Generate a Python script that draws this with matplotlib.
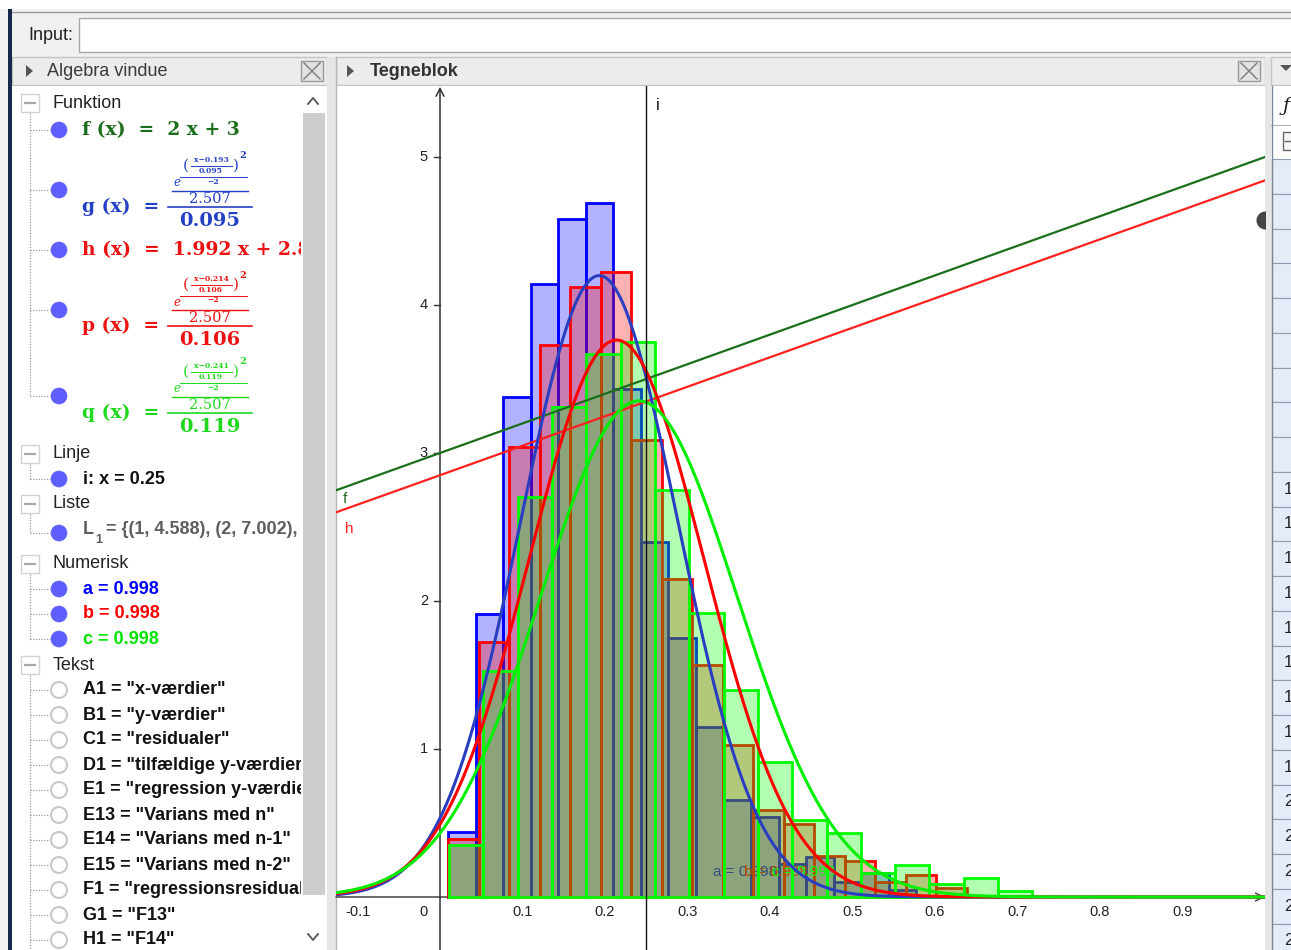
import numpy as np
import matplotlib.pyplot as plt
from matplotlib.patches import Rectangle, Circle, Polygon
from matplotlib.colors import to_rgba

W, H = 1291, 950
UI = 'Liberation Sans'
SERIF = 'DejaVu Serif'

# histogrammer (a, b, c): start, intervalbredde og søjlehøjder
a_start, a_width = 0.0097, 0.0334
a_heights = [0.44, 1.91, 3.38, 4.14, 4.58, 4.69, 3.43, 2.40, 1.75, 1.15,
             0.655, 0.54, 0.22, 0.27, 0.10, 0.16, 0.05]
b_start, b_width = 0.0097, 0.0370
b_heights = [0.39, 1.72, 3.04, 3.73, 4.12, 4.22, 3.09, 2.15, 1.57, 1.03,
             0.59, 0.49, 0.28, 0.245, 0.10, 0.15, 0.06]
c_start, c_width = 0.0109, 0.0416
c_heights = [0.35, 1.53, 2.70, 3.31, 3.67, 3.75, 2.75, 1.92, 1.40, 0.91,
             0.52, 0.43, 0.16, 0.216, 0.088, 0.128, 0.04]

# normalfordelinger g, p, q
fn_names = ['g', 'p', 'q']
fn_means = [0.193, 0.214, 0.241]
fn_sds = [0.095, 0.106, 0.119]

# rette linjer f og h, lodret linje i
f_slope, f_icpt = 2, 3
h_slope, h_icpt = 1.992, 2.85
i_x = 0.25

slider_names = ['a', 'b', 'c']
slider_vals = [0.998, 0.998, 0.998]

xticks = [-0.1, 0.1, 0.2, 0.3, 0.4, 0.5, 0.6, 0.7, 0.8, 0.9]
yticks = [1, 2, 3, 4, 5]

tekst_items = ['A1 = "x-værdier"', 'B1 = "y-værdier"', 'C1 = "residualer"',
               'D1 = "tilfældige y-værdier"', 'E1 = "regression y-værdier"',
               'E13 = "Varians med n"', 'E14 = "Varians med n-1"',
               'E15 = "Varians med n-2"', 'F1 = "regressionsresidualer"',
               'G1 = "F13"', 'H1 = "F14"']

BLUE, RED, GREEN = '#0000ff', '#ff0000', '#00ff00'
col_f, col_g, col_h, col_p, col_q = '#1b6e1b', '#2440c4', '#ee1111', '#ee1111', '#1ed81e'

fig = plt.figure(figsize=(W / 100, H / 100), dpi=100)


def px_axes(x0, y0, x1, y1):
    a = fig.add_axes([x0 / W, 1 - y1 / H, (x1 - x0) / W, (y1 - y0) / H])
    a.set_xlim(x0, x1)
    a.set_ylim(y1, y0)
    a.set_axis_off()
    return a


def box(a, x0, y0, x1, y1, fc, ec='none', lw=1.0, z=1):
    a.add_patch(Rectangle((x0, y0), x1 - x0, y1 - y0, fc=fc, ec=ec, lw=lw, zorder=z))


# ---------- vinduets rammer ----------
ui = px_axes(0, 0, W, H)
box(ui, 0, 0, W, H, '#f1f1f1')
box(ui, 0, 0, W, 9, 'white')
ui.plot([10, W], [12, 12], color='#9c9c9c', lw=1)
box(ui, 8, 9, 12, H, '#16294a', z=2)
ui.text(28, 36, 'Input:', family=UI, fontsize=13, color='#222', va='center')
box(ui, 79, 18, W + 5, 52, 'white', '#a8a8a8')

for x0, x1 in [(12, 327), (336, 1265), (1271, W + 5)]:
    box(ui, x0, 57, x1, 85, '#ececec', '#c4c4c4')
for tx in (26, 347):
    ui.add_patch(Polygon([(tx, 65), (tx, 77), (tx + 7, 71)], fc='#555', ec='none', zorder=3))
ui.text(47, 71, 'Algebra vindue', family=UI, fontsize=13, color='#3a3a3a', va='center')
ui.text(370, 71, 'Tegneblok', family=UI, fontsize=13, color='#333', va='center',
        fontweight='bold')
for cx in (312, 1249):
    box(ui, cx - 11, 61, cx + 11, 81, '#e3e3e3', '#9a9a9a', z=3)
    ui.plot([cx - 8, cx + 8], [63, 79], color='#7a7a7a', lw=1, zorder=4)
    ui.plot([cx - 8, cx + 8], [79, 63], color='#7a7a7a', lw=1, zorder=4)
ui.add_patch(Polygon([(1280, 65), (1292, 65), (1286, 71)], fc='#555', ec='none', zorder=3))

box(ui, 12, 86, 301, H, 'white')
box(ui, 301, 86, 327, H, 'white')
box(ui, 303, 113, 325, 895, '#cdcdcd')
ui.plot([308, 313, 318], [104, 98, 104], color='#555', lw=1.3)
ui.plot([308, 313, 318], [934, 940, 934], color='#555', lw=1.3)
box(ui, 327, 57, 336, H, '#e6e6e6')
ui.plot([335.5, 335.5], [57, H], color='#b5b5b5', lw=1)
box(ui, 336, 86, 1265, H, 'white')
box(ui, 1265, 57, 1271, H, '#e6e6e6')

# regneark (kun kanten ses)
box(ui, 1271, 86, W + 5, 159, 'white')
ui.text(1283, 106, 'ƒ', family=SERIF, fontsize=14, style='italic', color='#222', va='center')
box(ui, 1283, 132, 1295, 150, '#f6f6f6', '#666', lw=1)
ui.plot([1285, 1292], [141, 141], color='#666', lw=1)
ui.plot([1271, W], [125, 125], color='#b0b0b0', lw=0.8)
row_h = 34.75
for k in range(23):
    y0 = 159 + row_h * k
    box(ui, 1272, y0, W + 5, y0 + row_h, '#e6ecf7', '#909cb2', lw=0.8)
    lab = '' if k < 9 else ('1' if k < 18 else '2')
    ui.text(1284, y0 + row_h / 2, lab, family=UI, fontsize=12, color='#222', va='center')
ui.plot([1272, 1272], [86, H], color='#7a869a', lw=1)

# ---------- algebravindue ----------
alg = px_axes(12, 86, 301, H)
DOT = '#5f5fff'


def dot(y, filled=True):
    if filled:
        alg.add_patch(Circle((59, y), 8, fc=DOT, ec=DOT, lw=0.5, zorder=4))
    else:
        alg.add_patch(Circle((59, y), 8, fc='white', ec='#c9c9c9', lw=1.5, zorder=4))


def category(name, y, children, last=None):
    alg.add_patch(Rectangle((21, y - 9), 18, 18, fc='white', ec='#d2d2d2', lw=1, zorder=3))
    alg.plot([25, 35], [y, y], color='#a9a9a9', lw=1.6, zorder=4)
    alg.text(53, y, name, family=UI, fontsize=13, color='#222', va='center')
    bottom = last if last is not None else children[-1]
    alg.plot([30, 30], [y + 10, bottom], color='#888', lw=0.8, ls=(0, (1, 1.5)))
    for cy in children:
        alg.plot([30, 50], [cy, cy], color='#888', lw=0.8, ls=(0, (1, 1.5)))


category('Funktion', 103, [130, 190, 250, 310, 396])
category('Linje', 454, [479])
category('Liste', 504, [533])
category('Numerisk', 564, [589, 614, 639])
tekst_y = [690 + 25 * k for k in range(len(tekst_items))]
category('Tekst', 665, tekst_y, last=H)

for y in [130, 190, 250, 310, 396, 479, 533, 589, 614, 639]:
    dot(y)
for y in tekst_y:
    dot(y, filled=False)

fkw = dict(family=SERIF, fontweight='bold', va='center', clip_on=True)
alg.text(82, 130, f'f (x)  =  {f_slope} x + {f_icpt}', fontsize=13.5, color=col_f, **fkw)
alg.text(82, 250, f'h (x)  =  {h_slope} x + {h_icpt}', fontsize=13.5, color=col_h, **fkw)


def gauss_entry(name, mu, sd, color, yb):
    kw = dict(family=SERIF, color=color, ha='center', va='center')
    alg.text(82, yb, f'{name} (x)  =', fontsize=13.5, fontweight='bold', color=color,
             family=SERIF, va='center')
    alg.text(211, yb - 47, f'x\u2212{mu:.3f}', fontsize=5.5, fontweight='bold', **kw)
    alg.plot([191, 232], [yb - 41.5, yb - 41.5], color=color, lw=0.7)
    alg.text(211, yb - 36, f'{sd:.3f}', fontsize=5.5, fontweight='bold', **kw)
    alg.text(186, yb - 41, '(', fontsize=11, **kw)
    alg.text(236, yb - 41, ')', fontsize=11, **kw)
    alg.text(243, yb - 51, '2', fontsize=7, fontweight='bold', **kw)
    alg.plot([180, 247], [yb - 30.5, yb - 30.5], color=color, lw=0.7)
    alg.text(213, yb - 25.5, '\u22122', fontsize=5.5, fontweight='bold', **kw)
    alg.text(177, yb - 24, 'e', fontsize=8.5, style='italic', **kw)
    alg.plot([172, 248], [yb - 16.5, yb - 16.5], color=color, lw=1)
    alg.text(210, yb - 8, '2.507', fontsize=10.5, **kw)
    alg.plot([168, 252], [yb, yb], color=color, lw=1.2)
    alg.text(210, yb + 14, f'{sd:.3f}', fontsize=14, fontweight='bold', **kw)


for nm, mu, sd, col, yb in zip(fn_names, fn_means, fn_sds, [col_g, col_p, col_q], [207, 326, 413]):
    gauss_entry(nm, mu, sd, col, yb)

tkw = dict(family=UI, fontweight='bold', fontsize=13, va='center', clip_on=True)
alg.text(83, 479, f'i: x = {i_x}', color='#111', **tkw)
alg.text(83, 529, 'L', color='#5e5e5e', **tkw)
alg.text(95, 540, '1', family=UI, fontweight='bold', fontsize=9, color='#5e5e5e', va='center')
alg.text(106, 529, '= {(1, 4.588), (2, 7.002), (3, 9.01)}', color='#5e5e5e', **tkw)
for nm, val, col, y in zip(slider_names, slider_vals, [BLUE, RED, '#00e400'], [589, 614, 639]):
    alg.text(83, y, f'{nm} = {val}', color=col, **tkw)
for txt, y in zip(tekst_items, tekst_y):
    alg.text(83, y, txt, color='#111', **tkw)

# ---------- tegneblok ----------
ax = fig.add_axes([336 / W, 0, (1265 - 336) / W, (H - 86) / H])
xmin, xmax = -104 / 825, 1.0
ymin, ymax = -53 / 148, 811 / 148
ax.set_xlim(xmin, xmax)
ax.set_ylim(ymin, ymax)
ax.set_axis_off()

hists = [(a_start, a_width, a_heights, BLUE, 2),
         (b_start, b_width, b_heights, RED, 3),
         (c_start, c_width, c_heights, GREEN, 4)]
for start, width, heights, col, z in hists:
    left = start + width * np.arange(len(heights))
    ax.bar(left, heights, width=width, align='edge', facecolor=to_rgba(col, 0.3),
           edgecolor=col, linewidth=2, zorder=z)

# skyderlabels der ligger oven i hinanden (som i GeoGebra)
for nm, val, col, xp, z in zip(slider_names, slider_vals, [BLUE, RED, GREEN],
                               [0.331, 0.368, 0.402], [2.5, 3.5, 4.5]):
    ax.text(xp, 0.17, f'{nm} = {val}', family=UI, fontsize=11, color=col, va='center',
            zorder=z, clip_on=True)

# akser
ax.annotate('', xy=(xmax, 0), xytext=(xmin, 0),
            arrowprops=dict(arrowstyle='->', lw=1.1, color='#444', mutation_scale=14,
                            shrinkA=0, shrinkB=0), zorder=1)
ax.annotate('', xy=(0, ymax - 0.005), xytext=(0, ymin),
            arrowprops=dict(arrowstyle='->', lw=1.1, color='#333', mutation_scale=14,
                            shrinkA=0, shrinkB=0), zorder=1)
for v in yticks:
    ax.plot([-0.0075, 0], [v, v], color='#333', lw=1, zorder=1)
    ax.text(-0.0195, v, str(v), family=UI, fontsize=10.5, color='#222', ha='center', va='center')
for v in xticks:
    ax.text(v, -0.101, f'{v:g}', family=UI, fontsize=10.5, color='#222', ha='center', va='center')
ax.text(-0.0195, -0.101, '0', family=UI, fontsize=10.5, color='#222', ha='center', va='center')

xs = np.linspace(xmin, xmax, 1200)
ax.plot(xs, f_slope * xs + f_icpt, color=col_f, lw=1.6, zorder=5)
ax.plot(xs, h_slope * xs + h_icpt, color='#ff2020', lw=1.6, zorder=5)
for mu, sd, col in zip(fn_means, fn_sds, ['#2a3fc0', '#ff0000', '#00ee00']):
    ys = np.exp(-((xs - mu) / sd) ** 2 / 2) / 2.507 / sd
    ax.plot(xs, ys, color=col, lw=2.2, zorder=6)
ax.axvline(i_x, color='#111', lw=1, zorder=7)

ax.text(i_x + 0.012, 5.35, 'i', family=UI, fontsize=12, color='#111', va='center')
ax.text(xmin + 0.008, f_slope * xmin + f_icpt - 0.06, 'f', family=UI, fontsize=11,
        color=col_f, va='center')
ax.text(xmin + 0.011, h_slope * xmin + h_icpt - 0.11, 'h', family=UI, fontsize=11,
        color='#ff2020', va='center')
ax.plot([0.9995], [4.574], marker='o', markersize=12, color='#444', zorder=8)

fig.savefig('out.png', dpi=100)
